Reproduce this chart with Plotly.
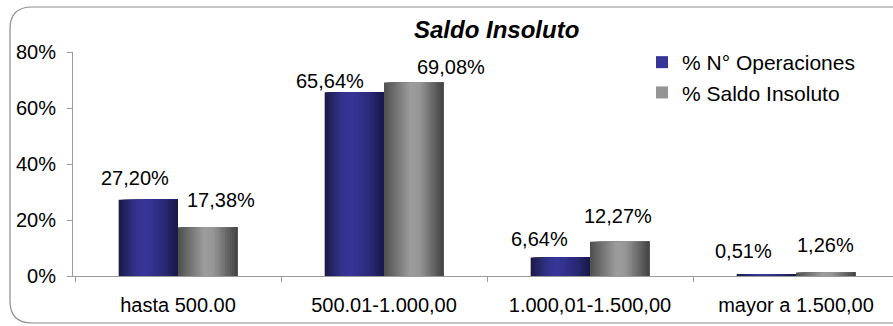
import plotly.graph_objects as go
import numpy as np

# ---------------- data ----------------
categories = ["hasta 500.00", "500.01-1.000,00", "1.000,01-1.500,00", "mayor a 1.500,00"]
series_names = ["% N° Operaciones", "% Saldo Insoluto"]
pct_operaciones = [27.20, 65.64, 6.64, 0.51]
pct_saldo = [17.38, 69.08, 12.27, 1.26]
y_ticks = [0, 20, 40, 60, 80]
title_text = "Saldo Insoluto"

# ---------------- style ----------------
W, H = 893, 326
ML, MR, MT, MB = 73, 0, 52, 50
FONT = "Liberation Sans, Arial, sans-serif"
BAR_W = 0.288
N_STRIPS = 24
blue_stops = [(0.0, (26, 26, 70)), (0.28, (50, 50, 140)), (0.45, (54, 54, 155)),
              (0.75, (42, 42, 122)), (1.0, (24, 24, 70))]
grey_stops = [(0.0, (78, 78, 78)), (0.45, (158, 158, 158)), (0.6, (150, 150, 150)),
              (1.0, (66, 66, 66))]
# per-label nudges (px) as in the reference
blue_xshift = [-13, -24, -21, -23]
blue_yshift = [9, -2, 5, 11]
grey_xshift = [13, 37, -2, 0]
grey_yshift = [14, 3, 13, 14]


def shade(stops, t):
    for (t0, c0), (t1, c1) in zip(stops[:-1], stops[1:]):
        if t0 <= t <= t1:
            f = (t - t0) / (t1 - t0) if t1 > t0 else 0
            c = [round(a + (b - a) * f) for a, b in zip(c0, c1)]
            return f"rgb({c[0]},{c[1]},{c[2]})"
    c = stops[-1][1]
    return f"rgb({c[0]},{c[1]},{c[2]})"


x = np.arange(len(categories))
fig = go.Figure()


def add_gradient_bars(values, start, stops, name):
    dw = BAR_W / N_STRIPS
    for k in range(N_STRIPS):
        t = (k + 0.5) / N_STRIPS
        fig.add_trace(go.Bar(
            x=x, y=values, offset=start + k * dw, width=BAR_W - k * dw,
            marker=dict(color=shade(stops, t), line=dict(width=0)),
            showlegend=False, hoverinfo="skip",
        ))
    # legend entry
    fig.add_trace(go.Bar(
        x=x, y=[0] * len(x), name=name, offset=start, width=0.0001,
        marker=dict(color=shade(stops, 0.4), line=dict(width=0)),
        showlegend=True, hoverinfo="skip",
    ))


add_gradient_bars(pct_operaciones, -BAR_W, blue_stops, series_names[0])
add_gradient_bars(pct_saldo, 0.0, grey_stops, series_names[1])


def fmt(v):
    return f"{v:.2f}".replace(".", ",") + "%"


annotations = []
for i, v in enumerate(pct_operaciones):
    annotations.append(dict(x=x[i] - BAR_W / 2, y=v, xref="x", yref="y", text=fmt(v),
                            showarrow=False, yanchor="bottom", xanchor="center",
                            xshift=blue_xshift[i], yshift=blue_yshift[i],
                            font=dict(family=FONT, size=20, color="#000")))
for i, v in enumerate(pct_saldo):
    annotations.append(dict(x=x[i] + BAR_W / 2, y=v, xref="x", yref="y", text=fmt(v),
                            showarrow=False, yanchor="bottom", xanchor="center",
                            xshift=grey_xshift[i], yshift=grey_yshift[i],
                            font=dict(family=FONT, size=20, color="#000")))

pw, ph = W - ML - MR, H - MT - MB


def px(xp):
    return (xp - ML) / pw


def py(yp):
    return (H - MB - yp) / ph


annotations.append(dict(x=px(496), y=py(30), xref="paper", yref="paper",
                        text=f"<b><i>{title_text}</i></b>", showarrow=False,
                        xanchor="center", yanchor="middle",
                        font=dict(family=FONT, size=24, color="#000")))

# rounded border
L, T, R, B, r = 10, 7, 920, 323, 22
path = (f"M {px(L + r)},{py(T)} L {px(R)},{py(T)} L {px(R)},{py(B)} "
        f"L {px(L + r)},{py(B)} Q {px(L)},{py(B)} {px(L)},{py(B - r)} "
        f"L {px(L)},{py(T + r)} Q {px(L)},{py(T)} {px(L + r)},{py(T)} Z")

left_px = 178 - ML
fig.update_layout(
    width=W, height=H,
    margin=dict(l=ML, r=MR, t=MT, b=MB, pad=0),
    paper_bgcolor="white", plot_bgcolor="white",
    barmode="overlay",
    font=dict(family=FONT, size=20, color="#000"),
    annotations=annotations,
    shapes=[dict(type="path", path=path, xref="paper", yref="paper",
                 line=dict(color="#8c8c8c", width=1.2), fillcolor="rgba(0,0,0,0)",
                 layer="below")],
    legend=dict(x=px(642), y=py(42), xanchor="left", yanchor="top",
                font=dict(family=FONT, size=21, color="#000"),
                bgcolor="rgba(0,0,0,0)", traceorder="normal",
                itemsizing="constant"),
    showlegend=True,
)
fig.update_xaxes(
    range=[-left_px / 206, (W - MR - 178) / 206],
    tickmode="array", tickvals=list(x), ticktext=categories,
    ticks="", showline=True, linecolor="#9a9a9a", linewidth=1,
    showgrid=False, zeroline=False,
    minor=dict(tick0=0.5, dtick=1, ticks="outside", ticklen=5, tickcolor="#9a9a9a",
               showgrid=False),
    tickfont=dict(family=FONT, size=20, color="#000"),
    ticklabelstandoff=11,
)
fig.update_yaxes(
    range=[0, 80], tickmode="array", tickvals=y_ticks,
    ticktext=[f"{t}%" for t in y_ticks],
    ticks="outside", ticklen=5, tickcolor="#9a9a9a",
    showline=True, linecolor="#9a9a9a", linewidth=1,
    showgrid=False, zeroline=False,
    tickfont=dict(family=FONT, size=20, color="#000"),
    ticklabelstandoff=7,
)

fig.write_html("out.html")
